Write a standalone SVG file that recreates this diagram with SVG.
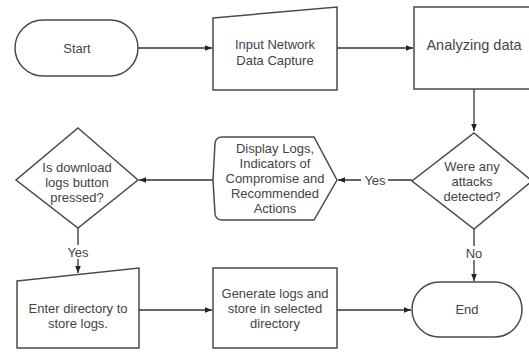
<svg xmlns="http://www.w3.org/2000/svg" width="529" height="352" viewBox="0 0 529 352">
<defs>
<style>
.s{fill:#fff;stroke:#4a4a4a;stroke-width:1.5}
.c{fill:none;stroke:#333;stroke-width:1.3}
.t{font-family:"Liberation Sans",Arial,sans-serif;font-size:13px;fill:#444;text-anchor:middle;dominant-baseline:central}
.lb{fill:#fff}
</style>
<marker id="a" viewBox="0 0 10 10" refX="10" refY="5" markerWidth="7" markerHeight="7" markerUnits="userSpaceOnUse" orient="auto">
<path d="M0,1 L10,5 L0,9 Z" fill="#222"/>
</marker>
</defs>
<rect width="529" height="352" fill="#fff"/>
<g id="connectors">
<line class="c" x1="138" y1="48" x2="212" y2="48" marker-end="url(#a)"/>
<line class="c" x1="337" y1="48" x2="413" y2="48" marker-end="url(#a)"/>
<line class="c" x1="474" y1="89" x2="474" y2="131" marker-end="url(#a)"/>
<line class="c" x1="412" y1="180" x2="338" y2="180" marker-end="url(#a)"/>
<rect class="lb" x="361" y="173" width="27" height="14"/>
<text class="t" x="375" y="180">Yes</text>
<line class="c" x1="213" y1="180" x2="139" y2="180" marker-end="url(#a)"/>
<line class="c" x1="78" y1="228" x2="78" y2="273" marker-end="url(#a)"/>
<rect class="lb" x="65" y="245" width="26" height="14"/>
<text class="t" x="78" y="252">Yes</text>
<line class="c" x1="474" y1="229" x2="474" y2="281" marker-end="url(#a)"/>
<rect class="lb" x="464" y="246" width="20" height="14"/>
<text class="t" x="474" y="253">No</text>
<line class="c" x1="139" y1="310" x2="212" y2="310" marker-end="url(#a)"/>
<line class="c" x1="337" y1="310" x2="411" y2="310" marker-end="url(#a)"/>
</g>
<g id="start">
<rect class="s" x="15" y="20" width="123" height="56" rx="28" ry="28"/>
<text class="t" x="77" y="48">Start</text>
</g>
<g id="input">
<path class="s" d="M213,18 L337,7 L337,90 L213,90 Z"/>
<text class="t" x="275" y="44">Input Network</text>
<text class="t" x="275" y="60">Data Capture</text>
</g>
<g id="analyze">
<rect class="s" x="414" y="7" width="120" height="82"/>
<text class="t" x="474" y="45" style="font-size:14.5px">Analyzing data</text>
</g>
<g id="attacks">
<path class="s" d="M474,133 L532,181 L474,229 L412,181 Z"/>
<text class="t" x="472" y="166">Were any</text>
<text class="t" x="472" y="181">attacks</text>
<text class="t" x="472" y="196">detected?</text>
</g>
<g id="display">
<path class="s" d="M222,137 L314,137 L337,180 L314,220 L222,220 Q216,220 215,214 L213,180 L215,143 Q216,137 222,137 Z"/>
<text class="t" x="275" y="148">Display Logs,</text>
<text class="t" x="275" y="163">Indicators of</text>
<text class="t" x="275" y="178">Compromise and</text>
<text class="t" x="275" y="193">Recommended</text>
<text class="t" x="275" y="208">Actions</text>
</g>
<g id="download">
<path class="s" d="M78,128 L138,180 L78,228 L16,180 Z"/>
<text class="t" x="77" y="167">Is download</text>
<text class="t" x="77" y="182">logs button</text>
<text class="t" x="77" y="197">pressed?</text>
</g>
<g id="enterdir">
<path class="s" d="M17,281 L139,268 L139,348 L17,348 Z"/>
<text class="t" x="78" y="308">Enter directory to</text>
<text class="t" x="78" y="323">store logs.</text>
</g>
<g id="generate">
<rect class="s" x="213" y="268" width="124" height="80"/>
<text class="t" x="275" y="293">Generate logs and</text>
<text class="t" x="275" y="308">store in selected</text>
<text class="t" x="275" y="323">directory</text>
</g>
<g id="end">
<rect class="s" x="412" y="282" width="110" height="55" rx="27.5" ry="27.5"/>
<text class="t" x="467" y="309">End</text>
</g>
</svg>
